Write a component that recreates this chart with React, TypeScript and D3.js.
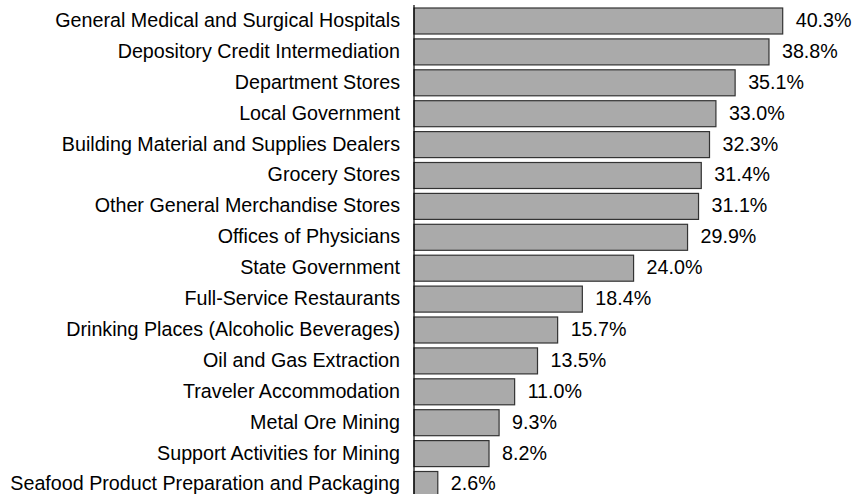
import React from "react";
import * as d3 from "d3";

const categories = [
  "General Medical and Surgical Hospitals",
  "Depository Credit Intermediation",
  "Department Stores",
  "Local Government",
  "Building Material and Supplies Dealers",
  "Grocery Stores",
  "Other General Merchandise Stores",
  "Offices of Physicians",
  "State Government",
  "Full-Service Restaurants",
  "Drinking Places (Alcoholic Beverages)",
  "Oil and Gas Extraction",
  "Traveler Accommodation",
  "Metal Ore Mining",
  "Support Activities for Mining",
  "Seafood Product Preparation and Packaging",
];
const values = [40.3, 38.8, 35.1, 33.0, 32.3, 31.4, 31.1, 29.9, 24.0, 18.4, 15.7, 13.5, 11.0, 9.3, 8.2, 2.6];

export default function App() {
  const W = 853, H = 494;
  const x0 = 414;
  const x = d3.scaleLinear().domain([0, 40.3]).range([x0, 782.7]);
  const p = 0.1586;
  const y = d3.scaleBand<string>().domain(categories).range([5.55, 499.95]).paddingInner(p).paddingOuter(p / 2);
  const font = "'Liberation Sans', Arial, sans-serif";
  const fs = 19.7;
  return (
    <svg width={W} height={H} style={{ position: "absolute", left: 0, top: 0, background: "#fff" }}>
      {categories.map((c, i) => {
        const yy = y(c)!;
        const bw = y.bandwidth();
        return (
          <g key={c}>
            <rect x={x0} y={yy} width={x(values[i]) - x0} height={bw} fill="#aaaaaa" stroke="#333" strokeWidth={1.2} />
            <text x={400} y={yy + bw / 2} dy="0.3em" textAnchor="end" fontFamily={font} fontSize={fs} fill="#000">{c}</text>
            <text x={x(values[i]) + 13} y={yy + bw / 2} dy="0.3em" textAnchor="start" fontFamily={font} fontSize={fs} fill="#000">{values[i].toFixed(1) + "%"}</text>
          </g>
        );
      })}
      <line x1={x0} x2={x0} y1={5} y2={H} stroke="#000" strokeWidth={1.2} />
    </svg>
  );
}
